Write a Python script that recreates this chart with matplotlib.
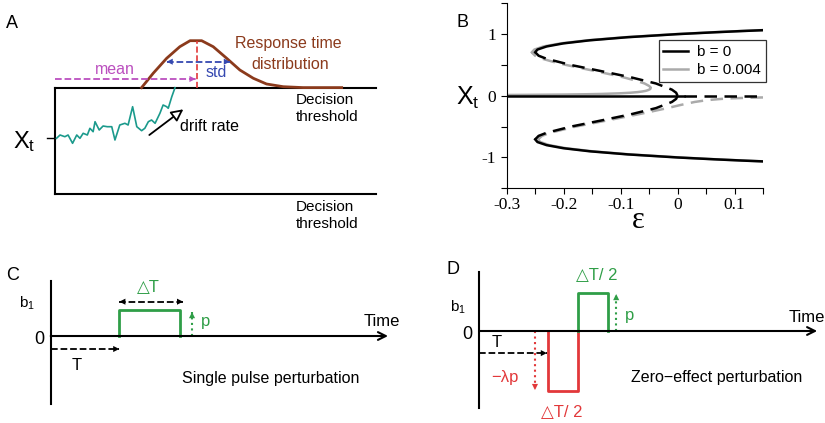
import matplotlib
matplotlib.use("Agg")
import matplotlib.pyplot as plt

plt.rcParams['font.family'] = ['Liberation Sans', 'DejaVu Sans']
plt.rcParams['mathtext.fontset'] = 'custom'
plt.rcParams['mathtext.rm'] = 'Liberation Sans'
plt.rcParams['mathtext.it'] = 'Liberation Sans'
plt.rcParams['axes.unicode_minus'] = False

# ---------------- data ----------------
# panel A: noisy walk and response time distribution (t: 0..1 box, x: thresholds at +-1)
walk_t = [0.005, 0.016, 0.031, 0.041, 0.055, 0.068, 0.078, 0.088, 0.101, 0.109, 0.119,
          0.125, 0.138, 0.150, 0.163, 0.177, 0.187, 0.202, 0.218, 0.228, 0.242, 0.255,
          0.270, 0.280, 0.291, 0.301, 0.312, 0.327, 0.337, 0.348, 0.353, 0.364, 0.374]
walk_x = [0.047, 0.109, 0.077, 0.109, -0.047, 0.109, 0.047, 0.141, 0.109, 0.235, 0.171,
          0.359, 0.203, 0.278, 0.265, 0.265, 0.015, 0.297, 0.329, 0.297, 0.641, 0.265,
          0.190, 0.235, 0.359, 0.391, 0.329, 0.517, 0.673, 0.641, 0.611, 0.829, 0.998]
rt_t = [0.270, 0.306, 0.348, 0.389, 0.421, 0.457, 0.493, 0.535, 0.576, 0.618, 0.659,
        0.711, 0.773, 0.893]
rt_x = [1.0, 1.269, 1.551, 1.769, 1.882, 1.882, 1.769, 1.551, 1.331, 1.175, 1.068,
        1.017, 1.0, 1.0]
rt_mean = 0.443
rt_std_lo, rt_std_hi = 0.348, 0.545

# panel B: equilibria, b = 0
b0_stab_eps = [-0.250, -0.246, -0.230, -0.2005, -0.154, -0.088, 0.0, 0.065, 0.113, 0.150]
b0_stab_up = [0.707, 0.75, 0.8, 0.85, 0.9, 0.95, 1.0, 1.03, 1.05, 1.064]
b0_stab_lo = [-0.707, -0.75, -0.8, -0.85, -0.9, -0.95, -1.0, -1.03, -1.05, -1.064]
b0_unst_eps = [-0.250, -0.244, -0.230, -0.1875, -0.134, -0.082, -0.038, -0.010, -0.0025, 0.0]
b0_unst_up = [0.707, 0.65, 0.6, 0.5, 0.4, 0.3, 0.2, 0.1, 0.05, 0.0]
b0_unst_lo = [-0.707, -0.65, -0.6, -0.5, -0.4, -0.3, -0.2, -0.1, -0.05, 0.0]
zero_solid_eps = [-0.3, 0.012]
zero_dash_eps = [0.012, 0.15]

# panel B: equilibria, b = 0.004
g_small_eps = [-0.299, -0.267, -0.200, -0.161, -0.134, -0.102, -0.0825, -0.070, -0.062,
               -0.056, -0.0525, -0.050, -0.048, -0.0475, -0.0474]
g_small_x = [0.0134, 0.015, 0.02, 0.025, 0.03, 0.04, 0.05, 0.06, 0.07, 0.08, 0.09, 0.10,
             0.11, 0.12, 0.126]
g_mid_eps = [-0.0474, -0.0478, -0.050, -0.058, -0.075, -0.095, -0.119, -0.144, -0.170,
             -0.1955, -0.218, -0.237, -0.250, -0.2556, -0.2557]
g_mid_x = [0.126, 0.14, 0.16, 0.2, 0.25, 0.3, 0.35, 0.4, 0.45, 0.5, 0.55, 0.6, 0.65, 0.7, 0.707]
g_up_eps = [-0.2557, -0.2514, -0.2354, -0.2052, -0.1583, -0.0922, -0.004, 0.0607, 0.1092, 0.1512]
g_up_x = [0.707, 0.75, 0.8, 0.85, 0.9, 0.95, 1.0, 1.03, 1.05, 1.066]
g_neg_eps = [0.150, 0.132, 0.098, 0.0775, 0.052, 0.030, 0.0047, -0.018, -0.069, -0.124,
             -0.1795, -0.224, -0.238, -0.2442, -0.2441]
g_neg_x = [-0.0265, -0.03, -0.04, -0.05, -0.07, -0.1, -0.15, -0.2, -0.3, -0.4, -0.5, -0.6,
           -0.65, -0.7, -0.72]
g_lo_eps = [-0.2441, -0.2408, -0.2254, -0.1958, -0.1495, -0.0838, 0.004, 0.0685, 0.1168, 0.1533]
g_lo_x = [-0.72, -0.75, -0.8, -0.85, -0.9, -0.95, -1.0, -1.03, -1.05, -1.064]

# panels C, D: pulse protocols (time unit = T)
T = 1.0
dT = 0.88
p_c = 1.0
p_d = 1.47
lam = 1.58

GREEN = '#2f9e47'
RED = '#e2383a'
BROWN = '#8b3a1c'
TEAL = '#1b9a8c'
MAGENTA = '#bb4fbf'
BLUE = '#3548b0'
GRAY = '#aaaaaa'


def dashed_arrow(ax, x0, y0, x1, y1, color, ls='--', both=False, lw=1.3, ms=11):
    ax.plot([x0, x1], [y0, y1], color=color, ls=ls, lw=lw)
    frac = 0.02
    head = dict(arrowstyle='-|>', lw=0, color=color, mutation_scale=ms, shrinkA=0, shrinkB=0)
    ax.annotate('', xy=(x1, y1), xytext=(x1 - (x1 - x0) * frac, y1 - (y1 - y0) * frac),
                arrowprops=head)
    if both:
        ax.annotate('', xy=(x0, y0), xytext=(x0 + (x1 - x0) * frac, y0 + (y1 - y0) * frac),
                    arrowprops=head)


fig = plt.figure(figsize=(8.25, 4.23), dpi=100)

# ---------------- panel A ----------------
axA = fig.add_axes([0, 183 / 423, 420 / 825, 240 / 423])
axA.set_xlim(-0.171, 1.137)
axA.set_ylim(-1.865, 2.647)
axA.set_axis_off()
axA.plot([0, 1.0], [1, 1], color='black', lw=1.5)
axA.plot([0, 1.0], [-1, -1], color='black', lw=1.5)
axA.plot([0, 0], [-1, 1], color='black', lw=1.5)
axA.plot([-0.025, 0], [0.047, 0.047], color='black', lw=1.0)
axA.plot(walk_t, walk_x, color=TEAL, lw=1.2)
axA.plot(rt_t, rt_x, color=BROWN, lw=2)
axA.plot([rt_mean, rt_mean], [1.0, 1.882], color=RED, ls='--', lw=1.2)
dashed_arrow(axA, 0, 1.162, rt_mean - 0.005, 1.162, MAGENTA, lw=1.3)
dashed_arrow(axA, rt_std_lo, 1.487, rt_std_hi, 1.487, BLUE, both=True, lw=1.3)
axA.annotate('', xy=(0.400, 0.592), xytext=(0.294, 0.109),
             arrowprops=dict(arrowstyle='-|>', lw=1.3, fc='white', ec='black',
                             mutation_scale=18, shrinkA=0, shrinkB=0))
axA.text(-0.134, 2.21, 'A', fontsize=13, ha='center', va='center')
axA.text(-0.131, -0.141, r'X$_\mathrm{t}$', fontsize=17, ha='left', va='baseline')
axA.text(0.187, 1.331, 'mean', color=MAGENTA, fontsize=11.5, ha='center', va='center')
axA.text(0.501, 1.29, 'std', color=BLUE, fontsize=11.5, ha='center', va='center')
axA.text(0.726, 1.83, 'Response time', color=BROWN, fontsize=11.5, ha='center', va='center')
axA.text(0.732, 1.43, 'distribution', color=BROWN, fontsize=11.5, ha='center', va='center')
for yc in (0.767, -1.244):
    axA.text(0.751, yc, 'Decision', fontsize=11, ha='left', va='center')
    axA.text(0.751, yc - 0.32, 'threshold', fontsize=11, ha='left', va='center')
axA.text(0.389, 0.278, 'drift rate', fontsize=11.5, ha='left', va='center')

# ---------------- panel B ----------------
axB = fig.add_axes([506.7 / 825, 1 - 188.3 / 423, 256.3 / 825, 185 / 423])
axB.set_xlim(-0.3, 0.15)
axB.set_ylim(-1.5, 1.5)
dash = (5, 3)
lwB = 1.8
axB.plot(g_small_eps, g_small_x, color=GRAY, lw=lwB)
axB.plot(g_mid_eps, g_mid_x, color=GRAY, lw=lwB, dashes=dash)
axB.plot(g_up_eps, g_up_x, color=GRAY, lw=lwB)
axB.plot(g_neg_eps, g_neg_x, color=GRAY, lw=lwB, dashes=dash)
axB.plot(g_lo_eps, g_lo_x, color=GRAY, lw=lwB)
axB.plot(b0_stab_eps, b0_stab_up, color='black', lw=lwB, label='b = 0')
axB.plot(b0_stab_eps, b0_stab_lo, color='black', lw=lwB)
axB.plot(b0_unst_eps, b0_unst_up, color='black', lw=lwB, dashes=dash)
axB.plot(b0_unst_eps, b0_unst_lo, color='black', lw=lwB, dashes=dash)
axB.plot(zero_solid_eps, [0, 0], color='black', lw=lwB)
axB.plot(zero_dash_eps, [0, 0], color='black', lw=lwB, dashes=dash)
axB.plot([], [], color=GRAY, lw=lwB, label='b = 0.004')
leg = axB.legend(loc='upper right', bbox_to_anchor=(1.01, 0.80), fontsize=11,
                 frameon=True, fancybox=False, edgecolor='black', handlelength=1.6,
                 borderpad=0.3, labelspacing=0.3, handletextpad=0.6, borderaxespad=0)
leg.get_frame().set_linewidth(0.9)
for s in ('top', 'right'):
    axB.spines[s].set_visible(False)
axB.set_xticks([-0.3, -0.2, -0.1, 0, 0.1])
axB.set_xticklabels(['-0.3', '-0.2', '-0.1', '0', '0.1'])
axB.set_xticks([-0.25, -0.15, -0.05, 0.05, 0.15], minor=True)
axB.set_yticks([-1, 0, 1])
axB.set_yticklabels(['-1', '0', '1'])
axB.set_yticks([-1.5, -0.5, 0.5, 1.5], minor=True)
axB.tick_params(which='both', direction='out', length=4, width=0.8, labelsize=12.5)
axB.tick_params(axis='x', pad=2)
for lbl in axB.get_xticklabels() + axB.get_yticklabels():
    lbl.set_fontfamily('Liberation Serif')
axB.text(-0.174, 0.898, 'B', transform=axB.transAxes, fontsize=13, ha='center', va='center')
axB.text(-0.197, 0.45, r'X$_\mathrm{t}$', transform=axB.transAxes, fontsize=18,
         ha='left', va='baseline')
axB.text(0.515, -0.215, 'ε', transform=axB.transAxes, fontsize=22, ha='center', va='baseline',
         family='Liberation Serif')

# ---------------- panel C ----------------
axC = fig.add_axes([0, 0, 420 / 825, 173 / 423])
axC.set_xlim(-0.739, 5.383)
axC.set_ylim(-3.346, 3.308)
axC.set_axis_off()
axC.plot([0, 0], [-2.615, 2.127], color='black', lw=1.5)
axC.annotate('', xy=(4.917, 0), xytext=(0, 0),
             arrowprops=dict(arrowstyle='->', lw=1.5, color='black', mutation_scale=14,
                             shrinkA=0, shrinkB=0))
axC.plot([T, T, T + dT, T + dT], [0, p_c, p_c, 0], color=GREEN, lw=2)
dashed_arrow(axC, T, 1.32, T + dT + 0.05, 1.32, 'black', both=True)
dashed_arrow(axC, 2.06, 0, 2.06, 0.92, GREEN, ls=':', lw=1.5)
dashed_arrow(axC, 0, -0.5, T, -0.5, 'black')
axC.text(-0.55, 2.31, 'C', fontsize=13, ha='center', va='center')
axC.text(-0.345, 1.27, r'b$_1$', fontsize=11, ha='center', va='center')
axC.text(-0.17, -0.15, '0', fontsize=13, ha='center', va='center')
axC.text(0.38, -1.12, 'T', fontsize=12, ha='center', va='center')
axC.text(4.83, 0.54, 'Time', fontsize=12, ha='center', va='center')
axC.text(3.2, -1.62, 'Single pulse perturbation', fontsize=11.5, ha='center', va='center')
axC.text(1.42, 1.85, '△T', color=GREEN, fontsize=12, ha='center', va='center')
axC.text(2.25, 0.54, 'p', color=GREEN, fontsize=12, ha='center', va='center')

# ---------------- panel D ----------------
axD = fig.add_axes([420 / 825, 0, 405 / 825, 173 / 423])
axD.set_xlim(-0.86, 5.044)
axD.set_ylim(-3.538, 3.115)
axD.set_axis_off()
axD.plot([0, 0], [-2.96, 2.28], color='black', lw=1.5)
axD.annotate('', xy=(4.93, 0), xytext=(0, 0),
             arrowprops=dict(arrowstyle='->', lw=1.5, color='black', mutation_scale=14,
                             shrinkA=0, shrinkB=0))
axD.plot([T, T, T + dT / 2, T + dT / 2], [0, -lam * p_d, -lam * p_d, 0], color=RED, lw=2)
axD.plot([T + dT / 2, T + dT / 2, T + dT, T + dT], [0, p_d, p_d, 0], color=GREEN, lw=2)
dashed_arrow(axD, 2.0, 0, 2.0, 1.42, GREEN, ls=':', lw=1.5)
dashed_arrow(axD, 0.816, 0, 0.816, -2.27, RED, ls=':', lw=1.5)
dashed_arrow(axD, 0, -0.85, T - 0.01, -0.85, 'black')
axD.text(-0.38, 2.35, 'D', fontsize=13, ha='center', va='center')
axD.text(-0.30, 0.92, r'b$_1$', fontsize=11, ha='center', va='center')
axD.text(-0.17, -0.15, '0', fontsize=13, ha='center', va='center')
axD.text(0.26, -0.46, 'T', fontsize=12, ha='center', va='center')
axD.text(0.38, -1.8, '−λp', color=RED, fontsize=12, ha='center', va='center')
axD.text(1.72, 2.15, '△T/ 2', color=GREEN, fontsize=12, ha='center', va='center')
axD.text(1.21, -3.12, '△T/ 2', color=RED, fontsize=12, ha='center', va='center')
axD.text(2.19, 0.58, 'p', color=GREEN, fontsize=12, ha='center', va='center')
axD.text(3.47, -1.77, 'Zero−effect perturbation', fontsize=11.5, ha='center', va='center')
axD.text(4.78, 0.5, 'Time', fontsize=12, ha='center', va='center')

fig.savefig('out.png', dpi=100)
